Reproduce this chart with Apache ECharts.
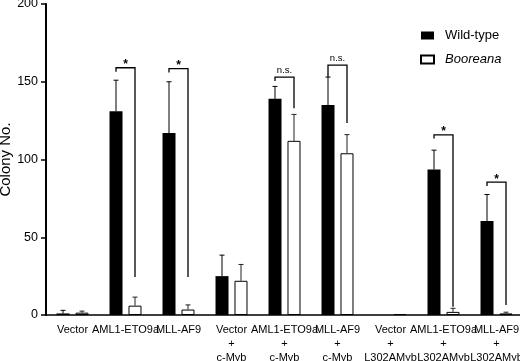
<!DOCTYPE html>
<html>
<head>
<meta charset="utf-8">
<script src="https://cdn.jsdelivr.net/npm/echarts@6/dist/echarts.min.js"></script>
<style>
  html, body { margin: 0; padding: 0; background: #fff; }
  #chart { width: 520px; height: 361px; }
</style>
</head>
<body>
<div id="chart"></div>
<script>
// categories on the x axis
const categories = [
    'Vector', 'AML1-ETO9a', 'MLL-AF9',
    'Vector\n+\nc-Myb', 'AML1-ETO9a\n+\nc-Myb', 'MLL-AF9\n+\nc-Myb',
    'Vector\n+\nL302AMyb', 'AML1-ETO9a\n+\nL302AMyb', 'MLL-AF9\n+\nL302AMyb'
];
const yTicks = [0, 50, 100, 150, 200];

// colony counts and upper error
const wildType = [1, 131, 117, 25, 139, 135, 0, 93.5, 60.5];
const wildTypeErr = [2, 20, 33, 13.5, 8, 18, 0, 12.5, 17];
const booreana = [1.5, 6, 3.5, 22, 112, 104, 0.6, 2, 1];
const booreanaErr = [1, 5.5, 3, 10.5, 17, 12, 0, 2.3, 0.8];

// significance brackets
const sigIndex = [1, 2, 4, 5, 7, 8];
const sigLabel = ['*', '*', 'n.s.', 'n.s.', '*', '*'];
const sigTop = [159, 158.5, 153, 160.7, 115.8, 85.4];
const sigLeftEnd = [156.5, 156, 150.5, 153, 113.5, 83];
const sigRightEnd = [24.5, 24.5, 133, 123.5, 5.3, 6.4];

const FONT = '"Liberation Sans", Arial, sans-serif';
const BAR_W = 13;
const OFFSET = 9.5; // half of bar + gap

const chart = echarts.init(document.getElementById('chart'));

function errorItem(offset, color) {
    return function (params, api) {
        const i = api.value(0);
        const base = api.coord([i, api.value(1)]);
        const top = api.coord([i, api.value(1) + api.value(2)]);
        const x = base[0] + offset;
        if (api.value(2) <= 0) return null;
        const style = { stroke: color, lineWidth: 1 };
        return {
            type: 'group',
            children: [
                { type: 'line', shape: { x1: x, y1: base[1], x2: x, y2: top[1] }, style: style },
                { type: 'line', shape: { x1: x - 2.5, y1: top[1], x2: x + 2.5, y2: top[1] }, style: style }
            ]
        };
    };
}

function bracketItem(params, api) {
    const i = api.value(0);
    const pTop = api.coord([i, api.value(1)]);
    const pL = api.coord([i, api.value(2)]);
    const pR = api.coord([i, api.value(3)]);
    const xl = pTop[0] - OFFSET, xr = pTop[0] + OFFSET;
    const label = sigLabel[params.dataIndex];
    const star = label === '*';
    return {
        type: 'group',
        children: [
            {
                type: 'polyline',
                shape: { points: [[xl, pL[1]], [xl, pTop[1]], [xr, pTop[1]], [xr, pR[1]]] },
                style: { stroke: '#000', lineWidth: 1.3, fill: null }
            },
            {
                type: 'text',
                style: {
                    text: label, x: pTop[0], y: star ? pTop[1] - 3 : pTop[1] - 2,
                    align: 'center', verticalAlign: star ? 'middle' : 'bottom',
                    font: (star ? 'bold 12px ' : '9.5px ') + FONT, fill: '#000'
                }
            }
        ]
    };
}

chart.setOption({
    animation: false,
    textStyle: { fontFamily: FONT },
    grid: { left: 46, top: 4, width: 477, bottom: 46, containLabel: false, outerBoundsMode: 'none' },
    legend: {
        data: ['Wild-type', 'Booreana'],
        orient: 'vertical',
        left: 415,
        top: 24,
        itemWidth: 13,
        itemHeight: 8,
        itemGap: 11,
        icon: 'rect',
        textStyle: {
            fontSize: 13, color: '#000', fontFamily: FONT, padding: [0, 0, 0, 6],
            rich: { i: { fontStyle: 'italic', fontSize: 13, fontFamily: FONT, color: '#000' } }
        },
        formatter: function (name) {
            return name === 'Booreana' ? '{i|Booreana}' : name;
        }
    },
    xAxis: {
        type: 'category',
        data: categories,
        axisLine: { lineStyle: { color: '#000', width: 1.5 } },
        axisTick: { alignWithLabel: true, length: 4, lineStyle: { color: '#000', width: 1.3 } },
        axisLabel: { interval: 0, fontSize: 11, color: '#000', lineHeight: 14, margin: 8, hideOverlap: false }
    },
    yAxis: {
        type: 'value',
        min: yTicks[0],
        max: yTicks[yTicks.length - 1],
        interval: 50,
        name: 'Colony No.',
        nameLocation: 'middle',
        nameGap: 33,
        nameMoveOverlap: false,
        nameTextStyle: { fontSize: 15, color: '#000' },
        splitLine: { show: false },
        axisLine: { show: true, lineStyle: { color: '#000', width: 2 } },
        axisTick: { show: true, length: 5, lineStyle: { color: '#000', width: 1.5 } },
        axisLabel: { fontSize: 12.5, color: '#000', margin: 8 }
    },
    series: [
        {
            name: 'Wild-type',
            type: 'bar',
            data: wildType,
            barWidth: BAR_W,
            barGap: '46%',
            itemStyle: { color: '#000' }
        },
        {
            name: 'Booreana',
            type: 'bar',
            data: booreana,
            barWidth: BAR_W,
            itemStyle: { color: '#fff', borderColor: '#000', borderWidth: 1 }
        },
        {
            type: 'custom',
            silent: true,
            renderItem: errorItem(-OFFSET, '#000'),
            data: wildType.map((v, i) => [i, v, wildTypeErr[i]]),
            z: 3
        },
        {
            type: 'custom',
            silent: true,
            renderItem: errorItem(OFFSET, '#222'),
            data: booreana.map((v, i) => [i, v, booreanaErr[i]]),
            z: 3
        },
        {
            type: 'custom',
            silent: true,
            renderItem: bracketItem,
            data: sigIndex.map((c, k) => [c, sigTop[k], sigLeftEnd[k], sigRightEnd[k]]),
            z: 4
        }
    ]
});
</script>
</body>
</html>
